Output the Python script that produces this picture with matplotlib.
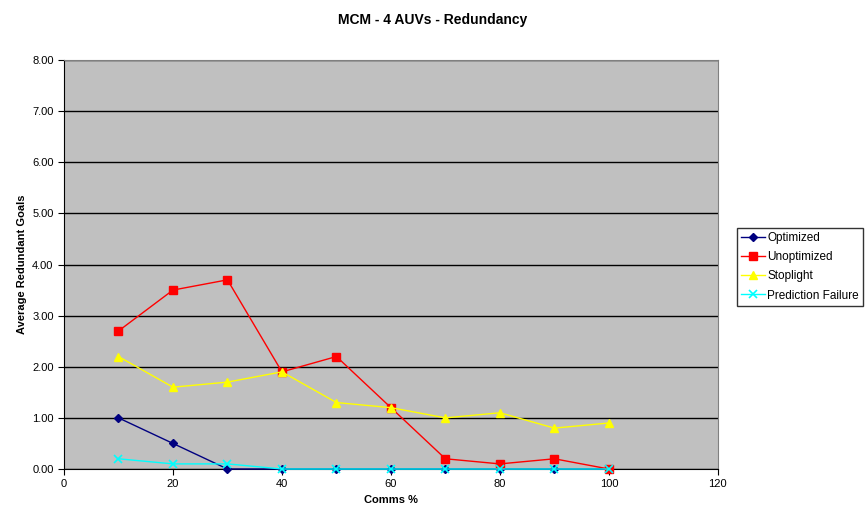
import matplotlib.pyplot as plt
from matplotlib.ticker import FormatStrFormatter

plt.rcParams['font.family'] = ['Liberation Sans', 'DejaVu Sans']

comms = [10, 20, 30, 40, 50, 60, 70, 80, 90, 100]
optimized = [1.0, 0.5, 0.0, 0.0, 0.0, 0.0, 0.0, 0.0, 0.0, 0.0]
unoptimized = [2.7, 3.5, 3.7, 1.9, 2.2, 1.2, 0.2, 0.1, 0.2, 0.0]
stoplight = [2.2, 1.6, 1.7, 1.9, 1.3, 1.2, 1.0, 1.1, 0.8, 0.9]
prediction_failure = [0.2, 0.1, 0.1, 0.0, 0.0, 0.0, 0.0, 0.0, 0.0, 0.0]

fig = plt.figure(figsize=(8.66, 5.15), dpi=100)
ax = fig.add_axes([0.0739, 0.0893, 0.755, 0.7942])
ax.set_facecolor('#C0C0C0')

common = dict(lw=1, clip_on=False, zorder=5)
ax.plot(comms, optimized, color='#000080', marker='D', markersize=4, label='Optimized', **common)
ax.plot(comms, unoptimized, color='#FF0000', marker='s', markersize=6, label='Unoptimized', **common)
ax.plot(comms, stoplight, color='#FFFF00', marker='^', markersize=6, label='Stoplight', **common)
ax.plot(comms, prediction_failure, color='#00FFFF', marker='x', markersize=6, mew=1.2,
        label='Prediction Failure', **common)

ax.set_xlim(0, 120)
ax.set_ylim(0, 8)
ax.set_xticks(range(0, 121, 20))
ax.set_yticks(range(0, 9))
ax.yaxis.set_major_formatter(FormatStrFormatter('%.2f'))
ax.grid(axis='y', color='black', lw=1)
ax.set_axisbelow(True)
ax.tick_params(labelsize=8, length=4, direction='out', color='black')

for side in ('top', 'right'):
    ax.spines[side].set_color('#808080')
for side in ('left', 'bottom'):
    ax.spines[side].set_color('black')

ax.set_xlabel('Comms %', fontsize=8, fontweight='bold')
ax.set_ylabel('Average Redundant Goals', fontsize=8, fontweight='bold')
fig.suptitle('MCM - 4 AUVs - Redundancy', fontsize=10, fontweight='bold', y=0.975)

leg = fig.legend(loc='upper left', bbox_to_anchor=(0.851, 0.557), fontsize=8.5,
                 frameon=True, fancybox=False, edgecolor='black', borderpad=0.35,
                 labelspacing=0.6, handlelength=2.0, handletextpad=0.2, borderaxespad=0)
leg.get_frame().set_linewidth(1)

fig.savefig('out.png', dpi=100)
